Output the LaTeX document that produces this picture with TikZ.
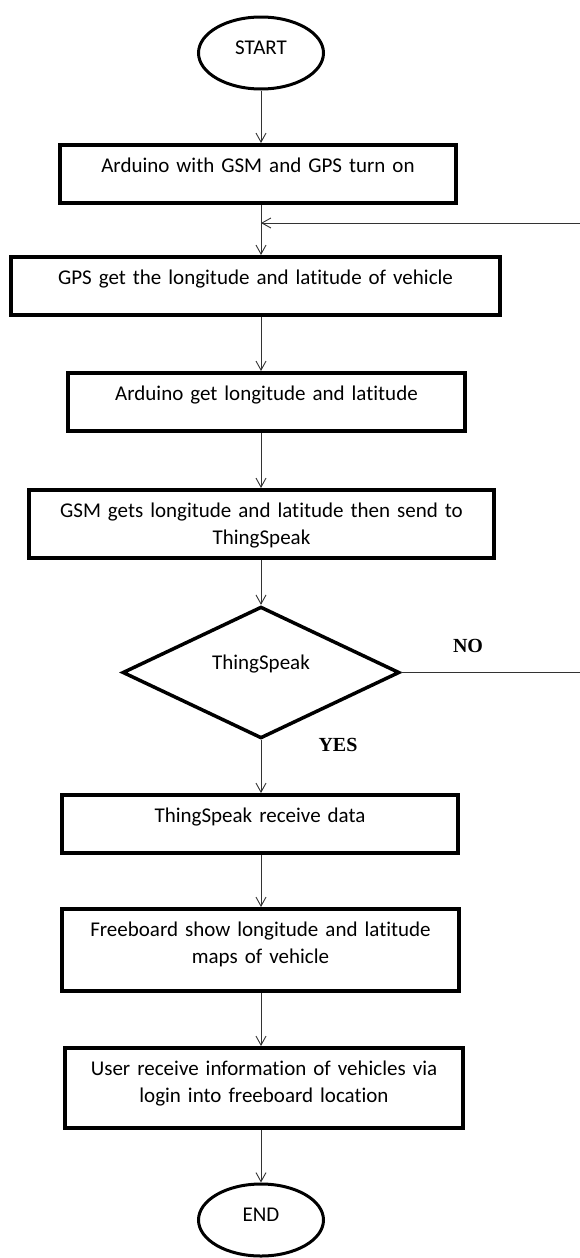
\documentclass[tikz,border=0pt]{standalone}
\usepackage{fontspec}
\setmainfont{Carlito}[Ligatures=NoCommon]
\newfontfamily\yesnofont{Liberation Serif}
\usetikzlibrary{shapes.geometric, arrows.meta, positioning}

\tikzset{
  stepbox/.style={draw, line width=4pt, inner xsep=6pt, inner ysep=4pt, align=center, text height=23pt, text depth=27pt},
  terminal/.style={draw, ellipse, line width=3pt, minimum width=125pt, minimum height=72pt, inner sep=0pt, text height=14pt, text depth=11pt},
  decision/.style={draw, diamond, line width=3.5pt, minimum width=277pt, minimum height=128pt, inner sep=0pt, text height=14pt, text depth=20pt},
  flow/.style={draw=black!80, line width=0.9pt, -{Straight Barb[length=9pt, width=10pt]}},
  yesno/.style={font=\yesnofont\bfseries\fontsize{20}{24}\selectfont},
}

\begin{document}
\begin{tikzpicture}[x=1pt, y=-1pt, font=\fontsize{21}{27}\selectfont]
  \useasboundingbox (0,0) rectangle (579,1258);

  \node[terminal] (start) at (261, 53) {START};
  \node[stepbox, text width=384pt] (turnon) at (258, 174) {Arduino with GSM and GPS turn on};
  \node[stepbox, text width=477pt] (getpos) at (255.5, 286) {GPS get the longitude and latitude of vehicle};
  \node[stepbox, text width=385pt] (ardget) at (266.5, 402) {Arduino get longitude and latitude};
  \node[stepbox, text width=453pt, text depth=37pt] (gsmsend) at (261.5, 524) {GSM gets longitude and latitude then send to\\ThingSpeak};
  \node[decision] (dec) at (261, 672.5) {ThingSpeak};
  \node[stepbox, text width=384pt] (recv) at (260, 824) {ThingSpeak receive data};
  \node[stepbox, text width=385pt, text depth=51pt] (board) at (260.5, 950) {Freeboard show longitude and latitude\\maps of vehicle};
  \node[stepbox, text width=386pt, text depth=49pt] (user) at (264, 1088) {User receive information of vehicles via\\login into freeboard location};
  \node[terminal] (stop) at (261, 1220) {END};

  % decision labels
  \node[yesno] (no) at (468, 646) {NO};
  \node[yesno] (yes) at (338, 745) {YES};

  % main flow
  \draw[flow] (start) -- (turnon.north -| start);
  \draw[flow] (turnon.south -| start) -- (getpos.north -| start);
  \draw[flow] (getpos.south -| start) -- (ardget.north -| start);
  \draw[flow] (ardget.south -| start) -- (gsmsend.north -| start);
  \draw[flow] (gsmsend.south -| dec) -- (dec);
  \draw[flow] (dec) -- (recv.north -| dec);
  \draw[flow] (recv.south -| dec) -- (board.north -| dec);
  \draw[flow] (board.south -| dec) -- (user.north -| dec);
  \draw[flow] (user.south -| stop) -- (stop);

  % NO branch back to the GPS step (its upright part runs just past the edge)
  \coordinate (join) at (261, 223);
  \coordinate (back) at (582, 223);
  \draw[flow] (dec.east) -| (back) -- (join);
\end{tikzpicture}
\end{document}
